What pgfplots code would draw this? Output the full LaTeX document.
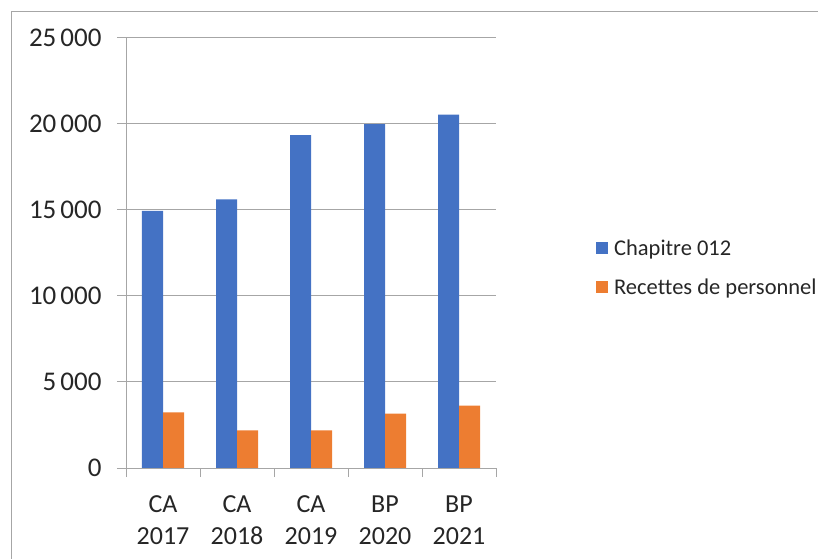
\documentclass[border=0pt]{standalone}
\usepackage{pgfplots}
\pgfplotsset{compat=1.18}
\usepackage{fontspec}
\setmainfont[Ligatures=NoCommon]{Carlito}
\definecolor{cblue}{HTML}{4472C4}
\definecolor{corange}{HTML}{ED7D31}
\definecolor{gridc}{HTML}{A6A6A6}
\definecolor{txt}{HTML}{262626}
\begin{document}
\begin{tikzpicture}
\useasboundingbox (0,0) rectangle (818bp,559bp);
\draw[gridc, line width=1bp] (11bp,-2bp) -- (11bp,547bp) -- (820bp,547bp);
\begin{axis}[
  at={(126bp,91bp)}, anchor=south west,
  width=370bp, height=430bp, scale only axis,
  xmin=-0.5, xmax=4.5, ymin=0, ymax=25000,
  ybar=0pt, bar width=21bp,
  axis x line*=bottom, axis y line*=left,
  axis line style={gridc, line width=1bp, -},
  ytick={0,5000,10000,15000,20000,25000},
  ymajorgrids, grid style={gridc, line width=1bp},
  tick align=outside, major tick length=9bp,
  tick style={gridc, line width=1bp},
  /pgf/number format/assume math mode=true,
  /pgf/number format/1000 sep={\hspace{4bp}},
  scaled y ticks=false,
  yticklabel style={font={\fontsize{27bp}{32bp}\selectfont}, text=txt, xshift=-12bp},
  xtick={-0.5,0.5,1.5,2.5,3.5,4.5}, xticklabels={},
  extra x ticks={0,1,2,3,4},
  extra x tick labels={{CA\\2017},{CA\\2018},{CA\\2019},{BP\\2020},{BP\\2021}},
  extra x tick style={major tick length=0pt, grid=none,
    xticklabel style={align=center, font={\fontsize{26bp}{32bp}\selectfont}, text=txt, yshift=-24bp}},
  legend style={at={(1.262,0.466)}, anchor=west, draw=none, fill=none,
    font={\fontsize{22.5bp}{27bp}\selectfont}, text=txt, row sep=18bp,
    /tikz/every even column/.append style={column sep=4bp}},
  legend cell align=left,
  legend image code/.code={\fill[#1] (0bp,-5.5bp) rectangle (12bp,6bp);},
]
\addplot[fill=cblue, draw=none] coordinates {(0,14950) (1,15620) (2,19360) (3,19990) (4,20540)};
\addplot[fill=corange, draw=none] coordinates {(0,3240) (1,2190) (2,2190) (3,3160) (4,3620)};
\legend{\hspace{4bp}Chapitre 012, \hspace{4bp}Recettes de personnel}
\end{axis}
\end{tikzpicture}
\end{document}
